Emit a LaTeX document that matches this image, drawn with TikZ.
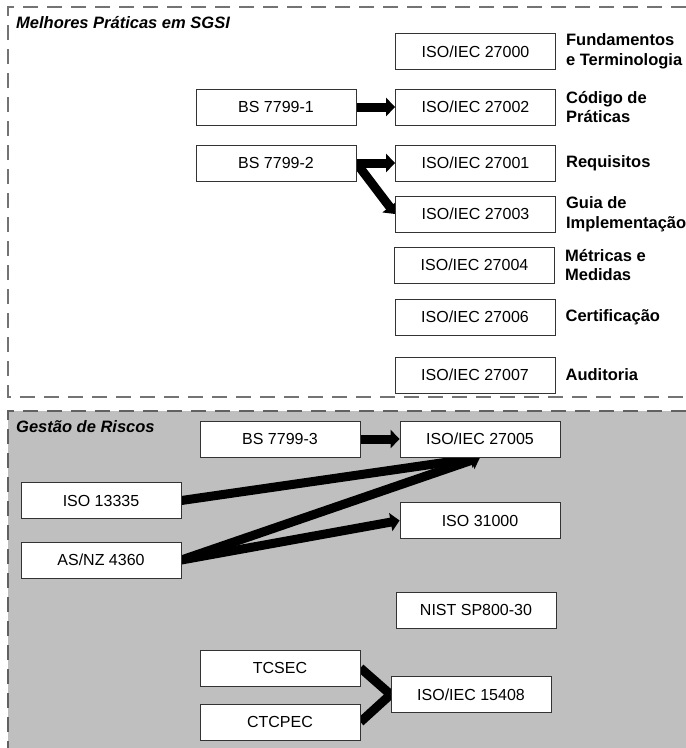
\documentclass[tikz,border=0pt]{standalone}
\usepackage{fontspec}
\setmainfont{Liberation Sans}
\usetikzlibrary{arrows.meta}
\usetikzlibrary{positioning,backgrounds}

\tikzset{
  caixa/.style={draw=black!80, line width=0.8pt, fill=white, minimum width=160pt,
    minimum height=36pt, inner sep=0pt, font=\fontsize{16}{19}\selectfont},
  rotulo/.style={align=left, inner sep=0pt, font=\fontsize{16.5}{19.5}\selectfont\bfseries},
  titulo/.style={anchor=base west, inner sep=0pt, font=\fontsize{16.5}{19.5}\selectfont\bfseries\itshape},
  seta/.style={line width=9pt, -{Triangle[length=9pt,width=18pt]}},
  traco/.style={line width=9pt},
  moldura/.style={black!55, line width=1.4pt, dash pattern=on 15pt off 9pt}
}

\begin{document}
\begin{tikzpicture}[x=1pt,y=-1pt]
	\useasboundingbox (0,0) rectangle (686,748);
	
	\begin{scope}[on background layer]
		\fill [black!25] (8,411) rectangle (686,748);
		\draw [moldura] (686,7) -- (8,7) -- (8,397) -- (686,397);
		\draw [moldura, black!62] (686,411) -- (8,411) -- (8,748);
	\end{scope}
	
	\node [titulo] (sgsi) at (16,28.5) {Melhores Práticas em SGSI};
	\node [titulo] (riscos) at (16,432) {Gestão de Riscos};
	
	%% Melhores praticas
	\node [caixa] (bs1) at (276,107) {BS 7799-1};
	\node [caixa] (bs2) at (276,163) {BS 7799-2};
	
	\node [caixa] (iso27000) at (475.5,51.5) {ISO/IEC 27000};
	\node [caixa] (iso27002) at (475.5,107) {ISO/IEC 27002};
	\node [caixa] (iso27001) at (475.5,163) {ISO/IEC 27001};
	\node [caixa] (iso27003) at (475.5,214) {ISO/IEC 27003};
	\node [caixa] (iso27004) at (474.5,265) {ISO/IEC 27004};
	\node [caixa] (iso27006) at (475,317) {ISO/IEC 27006};
	\node [caixa] (iso27007) at (475,375) {ISO/IEC 27007};
	
	\node [rotulo, right=10pt of iso27000] (fund) {Fundamentos\\e Terminologia};
	\node [rotulo, right=10pt of iso27002] (cod) {Código de\\Práticas};
	\node [rotulo, right=10pt of iso27001] (req) {Requisitos};
	\node [rotulo, right=10pt of iso27003] (guia) {Guia de\\Implementação};
	\node [rotulo, right=10pt of iso27004] (metr) {Métricas e\\Medidas};
	\node [rotulo, right=10pt of iso27006] (cert) {Certificação};
	\node [rotulo, right=10pt of iso27007] (aud) {Auditoria};
	
	%% Gestao de riscos
	\node [caixa] (bs3) at (280,439) {BS 7799-3};
	\node [caixa] (iso27005) at (480,439) {ISO/IEC 27005};
	\node [caixa] (iso13335) at (101,500.5) {ISO 13335};
	\node [caixa] (asnz) at (101,560) {AS/NZ 4360};
	\node [caixa] (iso31000) at (480,520.5) {ISO 31000};
	\node [caixa] (nist) at (476,610) {NIST SP800-30};
	\node [caixa] (tcsec) at (280,668) {TCSEC};
	\node [caixa] (ctcpec) at (280,722) {CTCPEC};
	\node [caixa] (iso15408) at (471,694.5) {ISO/IEC 15408};
	
	\begin{scope}[on background layer]
		\draw [seta] (bs1.east) -- (iso27002.west);
		\draw [seta] (bs2.east) -- (iso27001.west);
		\draw [seta] (bs2.east) -- (iso27003.west);
		
		\draw [seta] (bs3.east) -- (iso27005.west);
		\foreach \o in {iso13335,asnz}
			\draw [seta] (\o.east) -- (iso27005.south);
		\draw [seta] (asnz.east) -- (iso31000.west);
		
		\draw [traco] (tcsec.east) -- (iso15408.west);
		\draw [traco] (ctcpec.east) -- (iso15408.west);
	\end{scope}
	
\end{tikzpicture}
\end{document}
